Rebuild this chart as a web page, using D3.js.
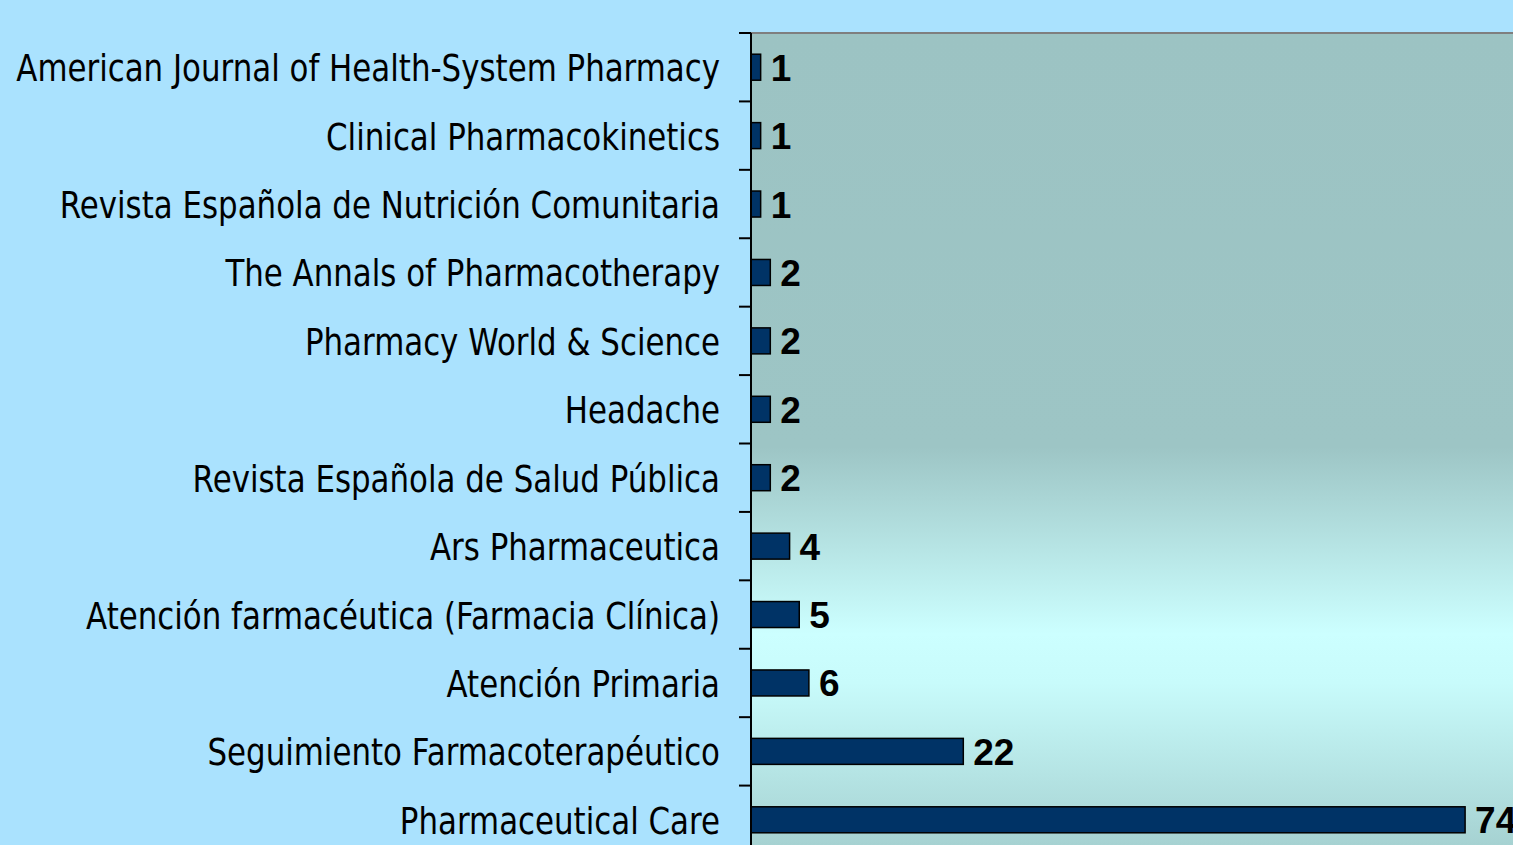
<!DOCTYPE html>
<html>
<head>
<meta charset="utf-8">
<script src="https://cdn.jsdelivr.net/npm/d3@7"></script>
<style>
    html, body { margin: 0; padding: 0; background: #aae2fe; overflow: hidden; }
</style>
</head>
<body>
<div id="chart"></div>
<script>
// data
let journals = [
    "American Journal of Health-System Pharmacy",
    "Clinical Pharmacokinetics",
    "Revista Española de Nutrición Comunitaria",
    "The Annals of Pharmacotherapy",
    "Pharmacy World & Science",
    "Headache",
    "Revista Española de Salud Pública",
    "Ars Pharmaceutica",
    "Atención farmacéutica (Farmacia Clínica)",
    "Atención Primaria",
    "Seguimiento Farmacoterapéutico",
    "Pharmaceutical Care"
]
let counts = [1, 1, 1, 2, 2, 2, 2, 4, 5, 6, 22, 74]
let xDomain = [0, 80]

let width = 1513
let height = 845
let plot = { left: 751, top: 33, right: 1523, bottom: 854 }

let svg = d3.select("#chart").append("svg")
    .attr("width", width)
    .attr("height", height)

// 背景渐变
let defs = svg.append("defs")
let grad = defs.append("linearGradient")
    .attr("id", "plotGrad")
    .attr("gradientUnits", "userSpaceOnUse")
    .attr("x1", 0).attr("x2", 0)
    .attr("y1", plot.top).attr("y2", height)
let stops = [[0, "#9cc3c3"], [0.51, "#9dc5c5"], [0.74, "#ccffff"], [0.8, "#c8fbfb"], [1, "#a6d2d2"]]
grad.selectAll("stop").data(stops).enter().append("stop")
    .attr("offset", d => d[0])
    .attr("stop-color", d => d[1])

svg.append("rect")
    .attr("x", plot.left)
    .attr("y", plot.top)
    .attr("width", plot.right - plot.left)
    .attr("height", height - plot.top)
    .attr("fill", "url(#plotGrad)")

// 比例尺
let yScale = d3.scaleBand()
    .domain(journals)
    .range([plot.top, plot.bottom])
    .paddingInner(0.62)
    .paddingOuter(0.31)

let yBand = d3.scaleBand()
    .domain(journals)
    .range([plot.top, plot.bottom])

let xScale = d3.scaleLinear()
    .domain(xDomain)
    .range([plot.left, plot.right])

// top border
svg.append("line")
    .attr("x1", plot.left).attr("x2", width)
    .attr("y1", plot.top).attr("y2", plot.top)
    .attr("stroke", "#7f7f7f")
    .attr("stroke-width", 2)

// bars
svg.selectAll("rect.bar")
    .data(journals)
    .enter()
    .append("rect")
    .attr("class", "bar")
    .attr("x", xScale(0))
    .attr("y", d => yScale(d))
    .attr("width", (d, i) => xScale(counts[i]) - xScale(0))
    .attr("height", yScale.bandwidth())
    .attr("fill", "#003366")
    .attr("stroke", "#000")
    .attr("stroke-width", 1.5)

// 坐标轴 (ticks between categories)
let tickPos = journals.map(d => yBand(d)).concat([plot.bottom])
let axis = svg.append("g")
axis.append("line")
    .attr("x1", plot.left).attr("x2", plot.left)
    .attr("y1", plot.top).attr("y2", height)
    .attr("stroke", "#000")
    .attr("stroke-width", 2)
axis.selectAll("line.tick")
    .data(tickPos)
    .enter()
    .append("line")
    .attr("class", "tick")
    .attr("x1", plot.left - 12).attr("x2", plot.left)
    .attr("y1", d => d).attr("y2", d => d)
    .attr("stroke", "#000")
    .attr("stroke-width", 2)

// category labels
let labels = svg.selectAll("text.cat")
    .data(journals)
    .enter()
    .append("text")
    .attr("class", "cat")
    .attr("text-anchor", "end")
    .attr("font-family", "DejaVu Sans, Verdana, sans-serif")
    .attr("font-size", 38)
    .attr("fill", "#000")
    .text(d => d)

// 测量最长标签宽度, 横向压缩
let maxLen = d3.max(labels.nodes(), n => n.getComputedTextLength())
let k = 704 / maxLen
labels.attr("transform", d => "translate(720," + (yBand(d) + yBand.bandwidth() / 2 + 14) + ") scale(" + k + ",1)")

// value labels
svg.selectAll("text.val")
    .data(journals)
    .enter()
    .append("text")
    .attr("class", "val")
    .attr("x", (d, i) => xScale(counts[i]) + 10)
    .attr("y", d => yBand(d) + yBand.bandwidth() / 2 + 13.5)
    .attr("font-family", "Liberation Sans, Arial, sans-serif")
    .attr("font-weight", "bold")
    .attr("font-size", 37)
    .attr("fill", "#000")
    .text((d, i) => counts[i])
</script>
</body>
</html>
